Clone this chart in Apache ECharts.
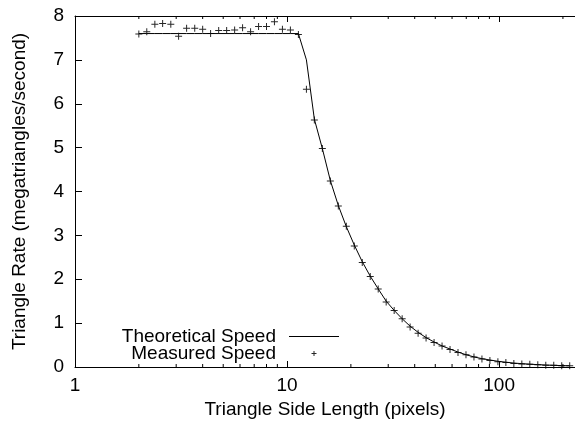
<!DOCTYPE html>
<html>
<head>
<meta charset="utf-8">
<script src="https://cdn.jsdelivr.net/npm/echarts@6/dist/echarts.min.js"></script>
<style>
  html, body { margin: 0; padding: 0; background: #fff; }
  #container { width: 575px; height: 425px; }
</style>
</head>
<body>
<div id="container"></div>
<script>
// triangle side lengths (pixels)
var sideLength = [2, 2.18, 2.38, 2.59, 2.83, 3.08, 3.36, 3.67,
  4, 4.36, 4.76, 5.19, 5.66, 6.17, 6.73, 7.34,
  8, 8.72, 9.51, 10.37, 11.31, 12.34, 13.45, 14.67,
  16, 17.45, 19.03, 20.75, 22.63, 24.68, 26.91, 29.34,
  32, 34.9, 38.05, 41.5, 45.25, 49.35, 53.82, 58.69,
  64, 69.79, 76.11, 83, 90.51, 98.7, 107.63, 117.38,
  128, 139.58, 152.22, 166, 181.02, 197.4, 215.27];

// megatriangles/second
var theoretical = [7.6, 7.6, 7.6, 7.6, 7.6, 7.6, 7.6, 7.6,
  7.6, 7.6, 7.6, 7.6, 7.6, 7.6, 7.6, 7.6,
  7.6, 7.6, 7.6, 7.6, 7.6, 7.0, 5.65, 4.98,
  4.25, 3.68, 3.2, 2.78, 2.4, 2.07, 1.78, 1.5,
  1.29, 1.1, 0.93, 0.79, 0.67, 0.57, 0.48, 0.41,
  0.34, 0.28, 0.23, 0.19, 0.16, 0.13, 0.11, 0.09,
  0.076, 0.064, 0.054, 0.045, 0.038, 0.032, 0.027];

var measured = [7.59, 7.64, 7.81, 7.83, 7.81, 7.54, 7.72, 7.72,
  7.70, 7.60, 7.67, 7.67, 7.68, 7.73, 7.64, 7.76,
  7.76, 7.87, 7.70, 7.68, 7.58, 6.33, 5.63, 4.98,
  4.24, 3.67, 3.21, 2.76, 2.38, 2.06, 1.78, 1.48,
  1.29, 1.10, 0.91, 0.77, 0.66, 0.56, 0.48, 0.40,
  0.33, 0.28, 0.23, 0.18, 0.15, 0.12, 0.10, 0.08,
  0.07, 0.06, 0.05, 0.04, 0.04, 0.03, 0.03];

// log axis minor ticks, gnuplot style
var minorTicks = [2, 3, 4, 5, 6, 7, 8, 9, 20, 30, 40, 50, 60, 70, 80, 90, 200];

var font = 'Liberation Sans, Arial, Helvetica, sans-serif';
var fs = 19;
var plusPath = 'path://M3,0 h1 v7 h-1 Z M0,3 h7 v1 h-7 Z';
// legend icons padded out to the 50x14 legend box
var lineLegend = 'path://M0,0 M50,14 M0,6.5 h50 v1 h-50 Z';
var plusLegend = 'path://M0,0 M50,14 M24.5,4.5 h1 v5 h-1 Z M22.5,6.5 h5 v1 h-5 Z';

function pairs(xs, ys) {
  var out = [];
  for (var i = 0; i < xs.length; i++) out.push([xs[i], ys[i]]);
  return out;
}

var myChart = echarts.init(document.getElementById('container'));
var option = {
  animation: false,
  textStyle: { fontFamily: font, color: '#000' },
  grid: { left: 75, right: 0, top: 16, bottom: 58, containLabel: false, outerBoundsMode: 'none' },
  legend: {
    orient: 'vertical',
    right: 236,
    top: 327,
    padding: 0,
    align: 'right',
    itemWidth: 50,
    itemHeight: 14,
    itemGap: -2,
    selectedMode: false,
    itemStyle: { color: '#000', borderWidth: 0 },
    textStyle: { fontFamily: font, fontSize: fs, color: '#000', lineHeight: 19, padding: [0, 8, 0, 0] },
    data: [
      { name: 'Theoretical Speed', icon: lineLegend },
      { name: 'Measured Speed', icon: plusLegend }
    ]
  },
  xAxis: [
    {
      type: 'log',
      logBase: 10,
      min: 1,
      max: 228,
      position: 'bottom',
      name: 'Triangle Side Length (pixels)',
      nameLocation: 'middle',
      nameGap: 33,
      nameTextStyle: { fontFamily: font, fontSize: fs, color: '#000' },
      axisLine: { show: true, lineStyle: { color: '#000', width: 1 } },
      axisTick: { show: true, inside: true, length: 6, lineStyle: { color: '#000' } },
      axisLabel: { fontFamily: font, fontSize: fs, color: '#000', margin: 9, showMaxLabel: false },
      splitLine: { show: false }
    },
    {
      type: 'log',
      logBase: 10,
      min: 1,
      max: 228,
      position: 'top',
      axisLine: { show: true, lineStyle: { color: '#000', width: 1 } },
      axisTick: { show: true, inside: true, length: 6, lineStyle: { color: '#000' } },
      axisLabel: { show: false },
      splitLine: { show: false }
    }
  ],
  yAxis: {
    type: 'value',
    min: 0,
    max: 8,
    interval: 1,
    name: 'Triangle Rate (megatriangles/second)',
    nameLocation: 'middle',
    nameGap: 46,
    nameTextStyle: { fontFamily: font, fontSize: fs, color: '#000' },
    axisLine: { show: true, lineStyle: { color: '#000', width: 1 } },
    axisTick: { show: true, inside: true, length: 7, lineStyle: { color: '#000' } },
    axisLabel: { fontFamily: font, fontSize: fs, color: '#000', margin: 11 },
    splitLine: { show: false }
  },
  series: [
    {
      name: 'Theoretical Speed',
      type: 'line',
      data: pairs(sideLength, theoretical),
      symbol: 'none',
      showSymbol: false,
      lineStyle: { color: '#000', width: 1 },
      itemStyle: { color: '#000' },
      z: 3
    },
    {
      name: 'Measured Speed',
      type: 'scatter',
      data: pairs(sideLength, measured),
      symbol: plusPath,
      symbolSize: 7,
      itemStyle: { color: '#000', opacity: 0.85 },
      z: 4
    },
    {
      name: 'minor',
      type: 'custom',
      silent: true,
      data: minorTicks.map(function (v) { return [v, 0]; }),
      encode: { x: 0, y: 1 },
      renderItem: function (params, api) {
        var b = api.coord([api.value(0), 0]);
        var t = api.coord([api.value(0), 8]);
        return {
          type: 'group',
          children: [
            { type: 'line', shape: { x1: b[0], y1: b[1], x2: b[0], y2: b[1] - 3 }, style: { stroke: '#000', lineWidth: 1 } },
            { type: 'line', shape: { x1: t[0], y1: t[1], x2: t[0], y2: t[1] + 3 }, style: { stroke: '#000', lineWidth: 1 } }
          ]
        };
      }
    }
  ]
};
myChart.setOption(option);
</script>
</body>
</html>
